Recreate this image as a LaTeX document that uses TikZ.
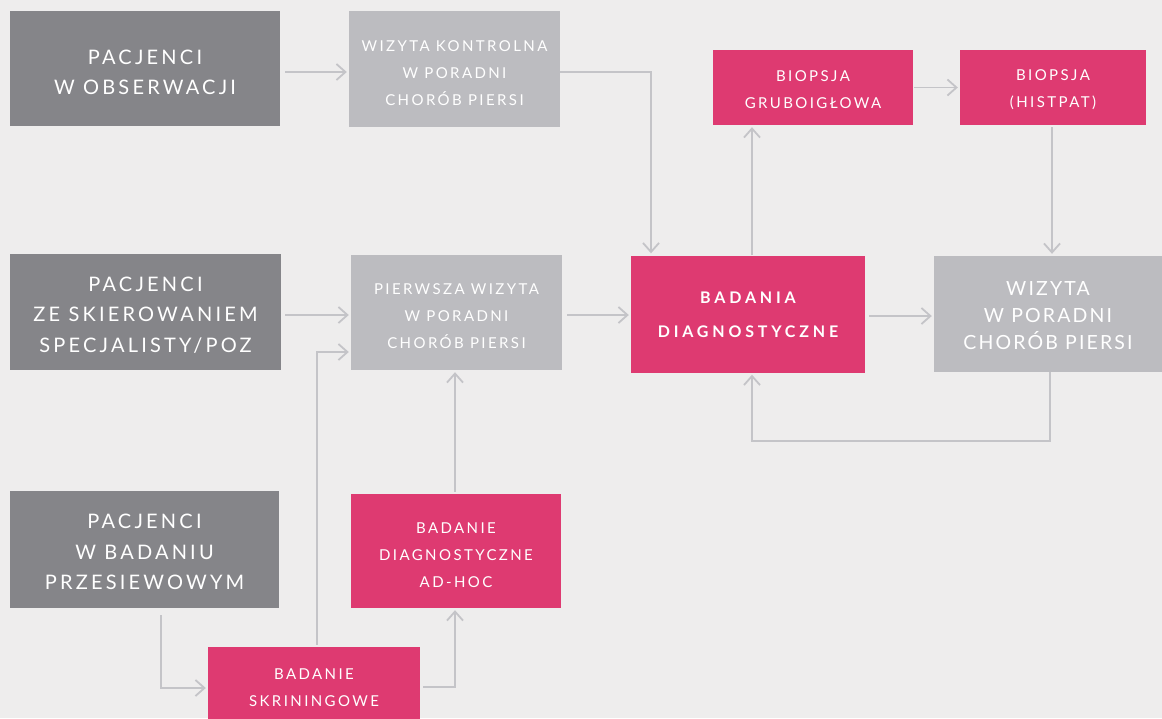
\documentclass[tikz,border=0pt]{standalone}
\usepackage{fontspec}
\usetikzlibrary{arrows.meta}
\newfontfamily\labfont[LetterSpace=16]{Lato}
\newfontfamily\labwiz[LetterSpace=11]{Lato}
\newfontfamily\labbold[LetterSpace=24]{Lato Bold}
\definecolor{bgc}{HTML}{EEEDED}
\definecolor{darkg}{HTML}{858589}
\definecolor{lightg}{HTML}{BCBCC0}
\definecolor{pinkc}{HTML}{DE3A71}
\definecolor{linec}{HTML}{C4C4C8}
\tikzset{
  boxbase/.style={inner sep=0pt, align=center, text=white},
  darkbox/.style={boxbase, fill=darkg, font=\labfont\fontsize{20}{30.5}\selectfont},
  lightbox/.style={boxbase, fill=lightg, font=\labfont\fontsize{15}{27}\selectfont, text height=73pt},
  bigbox/.style={boxbase, fill=lightg, font=\labwiz\fontsize{19.5}{27}\selectfont, text height=72pt},
  pinkbox/.style={boxbase, fill=pinkc, font=\labfont\fontsize{15}{27}\selectfont},
  boldbox/.style={boxbase, fill=pinkc, font=\labbold\fontsize{16}{34}\selectfont, text height=47.5pt},
  conn/.style={draw=linec, line width=1.8pt, -{Straight Barb[length=9pt,width=16pt,line width=1.8pt]}, shorten >=2pt},
}
\begin{document}
\begin{tikzpicture}[x=1pt,y=-1pt]
\useasboundingbox[fill=bgc] (0,0) rectangle (1162,718);
% nodes
\node[darkbox, text height=53pt, minimum width=270pt, minimum height=115pt] (obs) at (145,68.5) {PACJENCI\\W OBSERWACJI};
\node[lightbox, minimum width=211pt, minimum height=116pt] (wk) at (454.5,69) {WIZYTA KONTROLNA\\W PORADNI\\CHORÓB PIERSI};
\node[pinkbox, text height=42pt, minimum width=200pt, minimum height=75pt] (bg) at (813,87.5) {BIOPSJA\\GRUBOIGŁOWA};
\node[pinkbox, text height=42pt, minimum width=186pt, minimum height=75pt] (hist) at (1053,87.5) {BIOPSJA\\(HISTPAT)};
\node[darkbox, text height=81.5pt, minimum width=271pt, minimum height=116pt] (skier) at (145.5,312) {PACJENCI\\ZE SKIEROWANIEM\\SPECJALISTY/POZ};
\node[lightbox, minimum width=211pt, minimum height=115pt] (pw) at (456.5,312.5) {PIERWSZA WIZYTA\\W PORADNI\\CHORÓB PIERSI};
\node[boldbox, minimum width=234pt, minimum height=117pt] (bd) at (748,314) {BADANIA\\DIAGNOSTYCZNE};
\node[bigbox, minimum width=228pt, minimum height=116pt] (wiz) at (1048,314) {WIZYTA\\W PORADNI\\CHORÓB PIERSI};
\node[darkbox, text height=80.5pt, minimum width=269pt, minimum height=117pt] (przes) at (144.5,549.5) {PACJENCI\\W BADANIU\\PRZESIEWOWYM};
\node[pinkbox, text height=73pt, minimum width=210pt, minimum height=114pt] (adhoc) at (456,551) {BADANIE\\DIAGNOSTYCZNE\\AD-HOC};
\node[pinkbox, text height=40pt, minimum width=212pt, minimum height=80pt] (skr) at (314,687) {BADANIE\\SKRININGOWE};
% connectors
\draw[conn] (285,72) -- (wk.west |- 0,72);
\draw[conn] (wk.east |- 0,72) -| (bd.north -| 651,0);
\draw[conn] (bd.north -| 752,0) -- (bg.south -| 752,0);
\draw[conn] (bg.east) ++(1,0) -- (hist.west);
\draw[conn] (hist.south -| 1052,0) ++(0,2) -- (wiz.north -| 1052,0);
\draw[conn] (285,315) -- (pw.west |- 0,315);
\draw[conn] (567,315) -- (bd.west |- 0,315);
\draw[conn] (869,316) -- (wiz.west |- 0,316);
\draw[conn] (wiz.south -| 1050,0) -- (1050,441) -| (bd.south -| 752,0);
\draw[conn] (161,615) |- (skr.west |- 0,688);
\draw[conn] (skr.north -| 317,0) ++(0,-2) |- (pw.west |- 0,352);
\draw[conn] (423,687) -| (adhoc.south -| 455,0);
\draw[conn] (adhoc.north -| 455,0) ++(0,-2) -- (pw.south -| 455,0);
\end{tikzpicture}
\end{document}
